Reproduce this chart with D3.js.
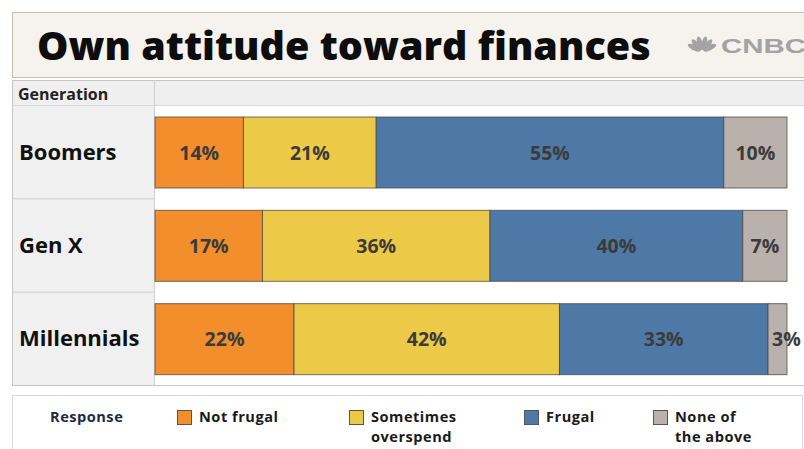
<!DOCTYPE html>
<html>
<head>
<meta charset="utf-8">
<script src="https://cdn.jsdelivr.net/npm/d3@7"></script>
<style>
  html, body { margin: 0; padding: 0; background: #ffffff; }
  svg { display: block; font-family: "Open Sans", Lato, sans-serif; }
</style>
</head>
<body>
<svg id="chart" width="804" height="449"></svg>
<script>
// Survey: own attitude toward finances, by generation (percent of respondents)
const generations = ["Boomers", "Gen X", "Millennials"];
const responses = ["Not frugal", "Sometimes overspend", "Frugal", "None of the above"];
const notFrugal = [14, 17, 22];
const sometimesOverspend = [21, 36, 42];
const frugal = [55, 40, 33];
const noneOfTheAbove = [10, 7, 3];
const legendLines = [["Not frugal"], ["Sometimes", "overspend"], ["Frugal"], ["None of", "the above"]];
const colors = ["#f28e2b", "#edc948", "#4e79a7", "#bab0ac"];

const rows = generations.map((g, i) => ({
  generation: g,
  "Not frugal": notFrugal[i],
  "Sometimes overspend": sometimesOverspend[i],
  "Frugal": frugal[i],
  "None of the above": noneOfTheAbove[i]
}));

const svg = d3.select("#chart");
const W = 804;

// Title banner
svg.append("rect").attr("x", 12.5).attr("y", 12.5).attr("width", 800).attr("height", 65)
  .attr("fill", "#f6f2ee").attr("stroke", "#c4bfb4");
svg.append("text").attr("x", 37).attr("y", 60)
  .attr("font-size", 39.5).attr("font-weight", 800).attr("fill", "#0d0d0d")
  .text("Own attitude toward finances");

// CNBC mark: peacock fan plus wordmark
const logo = svg.append("g").attr("transform", "translate(702,52)").attr("fill", "#a3a3a3");
[-62, -38, -14, 14, 38, 62].forEach(a => {
  logo.append("ellipse").attr("cx", 0).attr("cy", -8).attr("rx", 2.6).attr("ry", 7)
    .attr("transform", `rotate(${a}) translate(0,-1)`);
});
svg.append("text").attr("x", 721).attr("y", 53)
  .attr("font-family", "'Liberation Sans', Arial, sans-serif")
  .attr("font-size", 21).attr("font-weight", 700).attr("fill", "#a3a3a3")
  .attr("textLength", 85).attr("lengthAdjust", "spacingAndGlyphs")
  .text("CNBC");

// Table frame
const left = 12, colSplit = 155;
const y = d3.scaleBand().domain(generations).range([105, 385]).paddingInner(0).paddingOuter(0);
const x = d3.scaleLinear().domain([0, 100]).range([colSplit, 787]);

// Header row
svg.append("rect").attr("x", left).attr("y", 80).attr("width", W - left).attr("height", 25).attr("fill", "#efefef");
svg.append("line").attr("x1", left).attr("x2", W).attr("y1", 80.5).attr("y2", 80.5).attr("stroke", "#c6c6c6");
svg.append("line").attr("x1", left).attr("x2", W).attr("y1", 105.5).attr("y2", 105.5).attr("stroke", "#dadada");
svg.append("text").attr("x", 18).attr("y", 100)
  .attr("font-size", 16).attr("font-weight", 700).attr("fill", "#222")
  .text("Generation");

// Row header column
svg.append("rect").attr("x", left).attr("y", 106).attr("width", colSplit - left).attr("height", 279).attr("fill", "#f0f0f0");
svg.append("line").attr("x1", left + 0.5).attr("x2", left + 0.5).attr("y1", 80).attr("y2", 385).attr("stroke", "#c6c6c6");
svg.append("line").attr("x1", colSplit - 0.5).attr("x2", colSplit - 0.5).attr("y1", 80).attr("y2", 385).attr("stroke", "#cfcfcf");

// Row separators
generations.slice(1).forEach(g => {
  svg.append("line").attr("x1", left).attr("x2", colSplit).attr("y1", y(g) + 0.5).attr("y2", y(g) + 0.5).attr("stroke", "#cdcdcd");
});
svg.append("line").attr("x1", left).attr("x2", W).attr("y1", 385.5).attr("y2", 385.5).attr("stroke", "#c6c6c6");

// Row labels
svg.append("g").selectAll("text").data(generations).join("text")
  .attr("x", 19).attr("y", d => y(d) + y.bandwidth() / 2 + 8)
  .attr("font-size", 22).attr("font-weight", 700).attr("fill", "#111")
  .text(d => d);

// Stacked bars
const stack = d3.stack().keys(responses)(rows);
const barTop = d => y(d.data.generation) + 12;
const barH = 71;

const layer = svg.append("g").selectAll("g").data(stack).join("g")
  .attr("fill", (d, i) => colors[i]);
layer.selectAll("rect").data(d => d).join("rect")
  .attr("x", d => x(d[0]))
  .attr("y", barTop)
  .attr("width", d => x(d[1]) - x(d[0]))
  .attr("height", barH)
  .attr("stroke", "rgba(70,70,70,0.75)")
  .attr("stroke-width", 1);

// Value labels
svg.append("g").selectAll("g").data(stack).join("g")
  .selectAll("text").data(d => d.map(s => ({ s, v: s[1] - s[0] }))).join("text")
  .each(function(d) {
    const w = x(d.s[1]) - x(d.s[0]);
    const t = d3.select(this);
    if (w < 30) {
      t.attr("x", x(d.s[0]) + 4).attr("text-anchor", "start");
    } else {
      t.attr("x", (x(d.s[0]) + x(d.s[1])) / 2).attr("text-anchor", "middle");
    }
  })
  .attr("y", d => barTop(d.s) + barH / 2 + 7)
  .attr("font-size", 19.5).attr("font-weight", 700).attr("fill", "#3b3b3b")
  .text(d => d.v + "%");

// Legend
svg.append("rect").attr("x", 12.5).attr("y", 395.5).attr("width", 790).attr("height", 60)
  .attr("fill", "#ffffff").attr("stroke", "#d8d8d8");
svg.append("text").attr("x", 50).attr("y", 422)
  .attr("font-size", 14.6).attr("font-weight", 700).attr("letter-spacing", 0.5).attr("fill", "#1f2a44")
  .text("Response");
const legendX = [177, 349, 524, 653];
const items = svg.append("g").selectAll("g").data(responses).join("g")
  .attr("transform", (d, i) => `translate(${legendX[i]},0)`);
items.append("rect").attr("x", 0.5).attr("y", 410.5).attr("width", 14).attr("height", 14)
  .attr("fill", (d, i) => colors[i]).attr("stroke", "#555").attr("stroke-width", 1);
items.selectAll("text").data((d, i) => legendLines[i]).join("text")
  .attr("x", 22).attr("y", (d, j) => 422 + j * 20)
  .attr("font-size", 14.6).attr("font-weight", 700).attr("letter-spacing", 0.5).attr("fill", "#1a1a1a")
  .text(d => d);
</script>
</body>
</html>
